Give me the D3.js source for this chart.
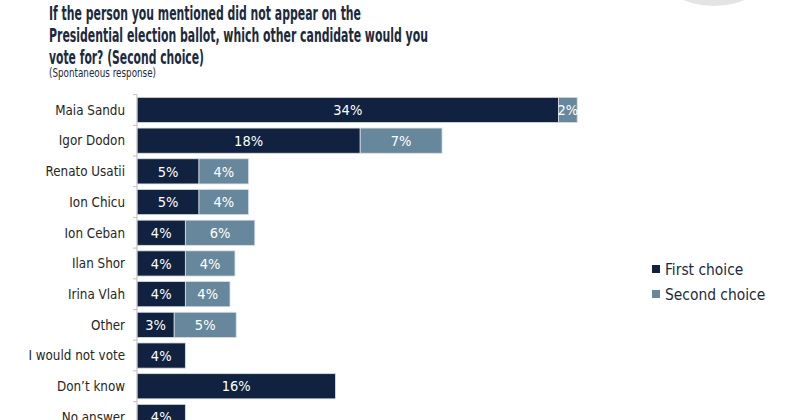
<!DOCTYPE html>
<html>
<head>
<meta charset="utf-8">
<script src="https://cdn.jsdelivr.net/npm/d3@7"></script>
<style>
  body { margin: 0; background: #fff; }
  svg { display: block; }
</style>
</head>
<body>
<div id="container"></div>
<script>
// Chart data
const categories = ["Maia Sandu", "Igor Dodon", "Renato Usatii", "Ion Chicu", "Ion Ceban",
  "Ilan Shor", "Irina Vlah", "Other", "I would not vote", "Don\u2019t know", "No answer"];
const firstChoice = [34.0, 18.0, 5.0, 5.0, 3.9, 3.9, 3.9, 3.0, 3.9, 16.0, 3.9];
const secondChoice = [1.5, 6.6, 4.0, 4.0, 5.6, 4.0, 3.6, 5.0, 0, 0, 0];
const seriesNames = ["First choice", "Second choice"];
const colours = ["#10223f", "#67889c"];
const titleLines = [
  "If the person you mentioned did not appear on the",
  "Presidential election ballot, which other candidate would you",
  "vote for? (Second choice)"
];
const titleWidths = [312, 379, 155];
const subtitle = "(Spontaneous response)";

const width = 800, height = 420;
const font = "'DejaVu Sans Condensed', 'DejaVu Sans', sans-serif";

const svg = d3.create("svg")
  .attr("width", width)
  .attr("height", height)
  .style("font-family", font);

// grey shape cut off at the top right
svg.append("ellipse")
  .attr("cx", 714).attr("cy", -34)
  .attr("rx", 58).attr("ry", 40)
  .attr("fill", "#e4e4e4");

// Title, squeezed to the narrow face of the original
svg.append("g")
  .selectAll("text")
  .data(titleLines)
  .join("text")
  .attr("x", 49)
  .attr("y", (d, i) => 20 + i * 22)
  .attr("fill", "#1c2a3e")
  .attr("font-size", 19.5)
  .attr("font-weight", "bold")
  .attr("textLength", (d, i) => titleWidths[i])
  .attr("lengthAdjust", "spacingAndGlyphs")
  .text(d => d);

svg.append("text")
  .attr("x", 49).attr("y", 77)
  .attr("fill", "#1c2a3e")
  .attr("font-size", 12.5)
  .attr("textLength", 107)
  .attr("lengthAdjust", "spacingAndGlyphs")
  .text(subtitle);

// Scales
const x = d3.scaleLinear().domain([0, 10]).range([137, 261]);
const y = d3.scaleBand().domain(categories).range([94.6, 94.6 + 30.7 * categories.length]).paddingInner(0.18).paddingOuter(0.09);

const rows = categories.map((c, i) => ({ name: c, values: [firstChoice[i], secondChoice[i]] }));
const stacked = d3.stack().keys([0, 1]).value((d, k) => d.values[k])(rows);

const seg = svg.append("g")
  .selectAll("g")
  .data(stacked)
  .join("g")
  .attr("fill", (d, i) => colours[i]);

seg.selectAll("rect")
  .data(d => d.filter(p => p[1] > p[0]))
  .join("rect")
  .attr("x", d => x(d[0]))
  .attr("y", d => y(d.data.name))
  .attr("width", d => x(d[1]) - x(d[0]))
  .attr("height", y.bandwidth())
  .attr("stroke", "#d9dee4")
  .attr("stroke-width", 0.8);

seg.selectAll("text")
  .data(d => d.filter(p => p[1] > p[0]))
  .join("text")
  .attr("x", d => (x(d[0]) + x(d[1])) / 2)
  .attr("y", d => y(d.data.name) + y.bandwidth() / 2)
  .attr("dy", "0.36em")
  .attr("text-anchor", "middle")
  .attr("fill", "#fff")
  .attr("font-size", 14.5)
  .text(d => Math.round(d[1] - d[0]) + "%");

// Axis with ticks at band edges
const axisG = svg.append("g");
axisG.append("line")
  .attr("x1", 137).attr("x2", 137)
  .attr("y1", y.range()[0]).attr("y2", height)
  .attr("stroke", "#bfbfbf");
axisG.selectAll(".tick")
  .data(d3.range(categories.length + 1))
  .join("line")
  .attr("class", "tick")
  .attr("x1", 133).attr("x2", 137)
  .attr("y1", i => y.range()[0] + i * y.step())
  .attr("y2", i => y.range()[0] + i * y.step())
  .attr("stroke", "#bfbfbf");

axisG.selectAll(".label")
  .data(categories)
  .join("text")
  .attr("class", "label")
  .attr("x", 125)
  .attr("y", d => y(d) + y.bandwidth() / 2)
  .attr("dy", "0.36em")
  .attr("text-anchor", "end")
  .attr("fill", "#262626")
  .attr("font-size", 13.3)
  .text(d => d);

// Legend
const legend = svg.append("g")
  .selectAll("g")
  .data(seriesNames)
  .join("g")
  .attr("transform", (d, i) => `translate(652, ${265 + i * 25})`);
legend.append("rect")
  .attr("width", 8).attr("height", 8)
  .attr("fill", (d, i) => colours[i]);
legend.append("text")
  .attr("x", 13).attr("y", 4)
  .attr("dy", "0.36em")
  .attr("fill", "#1c2a3e")
  .attr("font-size", 15.4)
  .text(d => d);

document.getElementById("container").append(svg.node());
</script>
</body>
</html>
